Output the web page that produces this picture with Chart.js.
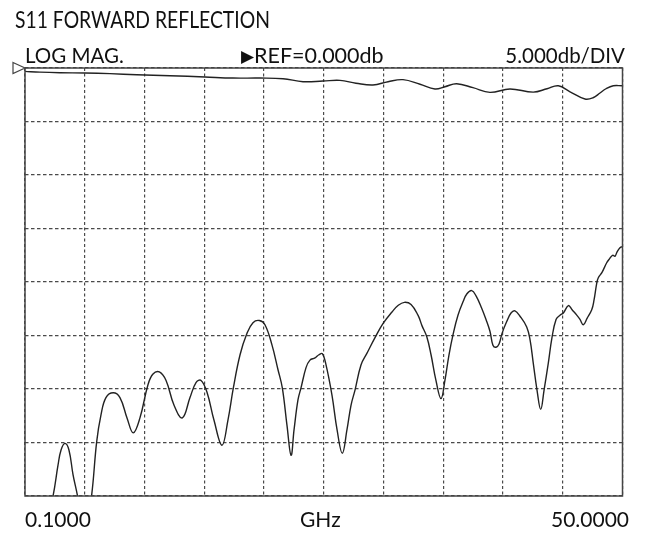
<!DOCTYPE html>
<html>
<head>
<meta charset="utf-8">
<script src="https://cdn.jsdelivr.net/npm/chart.js@4/dist/chart.umd.min.js"></script>
<style>
  html, body { margin: 0; padding: 0; background: #fff; }
  #wrap { position: relative; width: 645px; height: 533px; }
  canvas { position: absolute; left: 0; top: 0; }
  .lbl { position: absolute; font-family: Lato, "Open Sans", sans-serif; color: #111; white-space: nowrap; line-height: 1; font-size: 20px; }
</style>
</head>
<body>
<div id="wrap">
  <canvas id="trace" width="645" height="533"></canvas>
  <div class="lbl" style="left:15px; top:8px; font-size:23px; transform:scaleX(0.84); transform-origin:left center;">S11 FORWARD REFLECTION</div>
  <div class="lbl" style="left:25px; top:45px; font-size:20.5px;">LOG MAG.</div>
  <div class="lbl" style="left:241px; top:45px; font-size:21.5px;"><span style="font-family:'DejaVu Sans'; font-size:17px; position:relative; top:-1px;">&#9654;</span>REF=0.000db</div>
  <div class="lbl" style="right:20px; top:45px; font-size:20.5px;">5.000db/DIV</div>
  <div class="lbl" style="left:25px; top:508px; font-size:21px;">0.1000</div>
  <div class="lbl" style="left:300px; top:508px; font-size:21px;">GHz</div>
  <div class="lbl" style="right:16px; top:508px; font-size:21px;">50.0000</div>
</div>
<script>
// sweep 0.1 - 50 GHz, 5 dB/div, reference 0 dB at top
const freqStart = 0.1;
const freqStop = 50;
const refLevel = 0;
const dbPerDiv = 5;

// upper trace (GHz, dB)
const upperFreq = [0.1, 1.35, 3.02, 5.11, 7.20, 9.43, 12.21, 15.13, 17.47, 19.73, 21.65, 23.32, 24.99, 26.41, 27.74, 29.16, 30.42, 31.67, 33.09, 34.34, 35.17, 36.15, 37.51, 38.93, 40.60, 42.55, 43.70, 44.64, 45.62, 46.87, 47.54, 48.12, 48.62, 49.23, 49.96];
const upperDb = [-0.32, -0.39, -0.44, -0.47, -0.53, -0.63, -0.72, -0.84, -0.94, -0.94, -1.0, -1.28, -1.22, -1.16, -1.42, -1.59, -1.28, -1.09, -1.52, -1.96, -1.75, -1.47, -1.84, -2.28, -1.96, -2.25, -1.94, -1.66, -2.22, -2.9, -2.78, -2.34, -1.94, -1.66, -1.66];

// lower trace (GHz, dB)
const lowerFreq = [0.1, 1.2, 2.0, 2.46, 2.86, 3.11, 3.44, 3.77, 4.11, 4.47, 4.69, 5.11, 5.67, 6.09, 6.45, 6.86, 7.47, 8.03, 8.62, 9.14, 9.70, 10.37, 10.79, 11.32, 11.88, 12.54, 13.24, 13.88, 14.38, 14.80, 15.30, 15.88, 16.55, 17.05, 17.50, 18.06, 18.64, 19.14, 19.67, 20.14, 20.73, 21.23, 21.59, 21.98, 22.32, 22.57, 22.90, 23.15, 23.57, 23.90, 24.32, 24.65, 24.93, 25.24, 25.74, 26.16, 26.60, 26.99, 27.33, 27.66, 28.16, 28.64, 29.33, 30.02, 30.75, 31.25, 31.78, 32.34, 32.92, 33.26, 33.65, 34.01, 34.42, 34.84, 35.17, 35.51, 35.87, 36.26, 36.70, 37.01, 37.41, 37.77, 38.24, 38.60, 38.93, 39.18, 39.44, 39.69, 39.94, 40.33, 40.69, 41.02, 41.44, 42.00, 42.28, 42.55, 42.86, 43.17, 43.45, 43.80, 44.11, 44.45, 44.78, 45.06, 45.48, 45.79, 46.18, 46.45, 46.73, 47.04, 47.43, 47.62, 47.85, 47.98, 48.29, 48.68, 48.87, 49.18, 49.37, 49.54, 49.79, 49.96];
const lowerDb = [-48, -45, -42, -39.9, -37.1, -35.7, -35.08, -35.7, -38.0, -39.9, -41.3, -44.1, -39.9, -34.9, -32.4, -30.8, -30.35, -30.8, -32.7, -34.1, -32.7, -29.6, -28.6, -28.4, -29.2, -31.5, -32.7, -30.8, -29.4, -29.2, -30.3, -32.9, -35.25, -32.9, -29.9, -26.8, -24.8, -23.8, -23.6, -24.0, -25.9, -28.2, -29.9, -33.4, -36.2, -33.8, -31.0, -29.9, -28.0, -27.3, -27.1, -26.8, -26.7, -27.75, -30.6, -33.8, -36.0, -33.8, -31.5, -30.1, -27.75, -26.7, -25.2, -23.85, -22.8, -22.2, -21.9, -22.1, -23.1, -24.1, -25.1, -26.8, -29.2, -30.9, -29.2, -26.8, -24.8, -23.1, -21.8, -21.1, -20.8, -21.3, -22.45, -23.5, -24.6, -25.9, -26.1, -25.8, -24.8, -23.7, -22.9, -22.7, -23.2, -24.2, -25.4, -27.6, -30.1, -31.9, -30.1, -27.6, -25.2, -23.5, -23.1, -22.9, -22.2, -22.6, -23.1, -23.5, -24.0, -23.4, -22.6, -21.7, -20.1, -19.6, -19.1, -18.2, -17.9, -17.5, -17.6, -17.2, -16.8, -16.7];

function toPoints(xs, ys) {
  return xs.map((x, i) => ({ x: x, y: ys[i] }));
}

// frame + reference marker
const framePlugin = {
  id: "frame",
  afterDraw(chart) {
    const c = chart.ctx;
    const a = chart.chartArea;
    c.save();
    c.strokeStyle = "#444";
    c.lineWidth = 1.5;
    c.setLineDash([]);
    c.strokeRect(a.left, a.top, a.right - a.left, a.bottom - a.top);
    const ry = chart.scales.y.getPixelForValue(refLevel);
    c.fillStyle = "#fff";
    c.lineWidth = 1.2;
    c.beginPath();
    c.moveTo(a.left - 12, ry - 5.5);
    c.lineTo(a.left, ry);
    c.lineTo(a.left - 12, ry + 5.5);
    c.closePath();
    c.fill();
    c.stroke();
    c.restore();
  }
};

const gridStyle = {
  color: "#4a4a4a",
  lineWidth: 1.2,
  drawTicks: false
};

new Chart(document.getElementById("trace"), {
  type: "line",
  data: {
    datasets: [{
      data: toPoints(upperFreq, upperDb),
      borderColor: "#222",
      borderWidth: 1.4,
      pointRadius: 0,
      tension: 0.4
    }, {
      data: toPoints(lowerFreq, lowerDb),
      borderColor: "#222",
      borderWidth: 1.4,
      pointRadius: 0,
      tension: 0.4
    }]
  },
  options: {
    responsive: false,
    animation: false,
    events: [],
    layout: { padding: { left: 25, top: 68, right: 22.5, bottom: 37 } },
    plugins: { legend: { display: false }, tooltip: { enabled: false } },
    scales: {
      x: {
        type: "linear",
        min: freqStart,
        max: freqStop,
        afterBuildTicks(axis) {
          const t = [];
          for (let i = 0; i <= 10; i++) t.push({ value: freqStart + i * (freqStop - freqStart) / 10 });
          axis.ticks = t;
        },
        ticks: { display: false },
        grid: gridStyle,
        border: { display: false, dash: [3, 2.5] }
      },
      y: {
        min: refLevel - 8 * dbPerDiv,
        max: refLevel,
        ticks: { display: false, stepSize: dbPerDiv },
        grid: gridStyle,
        border: { display: false, dash: [3.5, 2.5] }
      }
    }
  },
  plugins: [framePlugin]
});
</script>
</body>
</html>
